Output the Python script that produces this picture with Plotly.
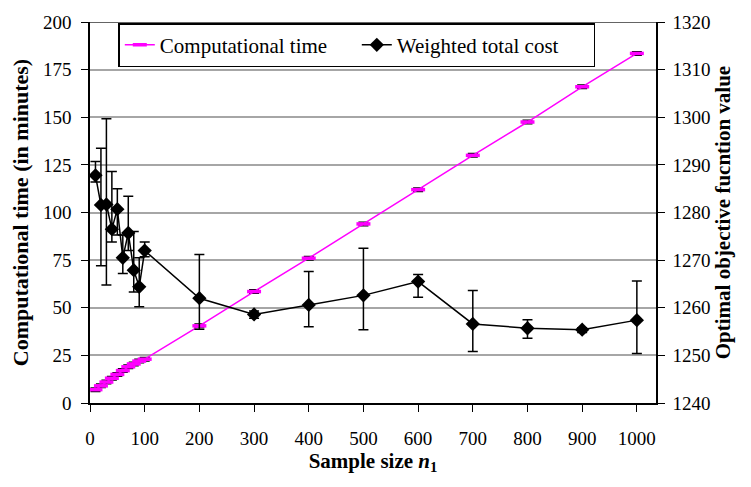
import plotly.graph_objects as go

sample_size = [10, 20, 30, 40, 50, 60, 70, 80, 90, 100, 200, 300, 400, 500, 600, 700, 800, 900, 1000]

comp_time = [7.0, 9.0, 11.0, 13.0, 15.0, 17.0, 19.0, 20.5, 22.0, 23.0, 40.5, 58.5, 76.0, 94.0, 112.0, 130.0, 147.5, 166.0, 183.5]
comp_time_err = [1.0] * 19

cost = [1287.8, 1281.6, 1281.7, 1276.5, 1280.7, 1270.5, 1275.7, 1267.9, 1264.4, 1272.0,
        1262.0, 1258.6, 1260.6, 1262.6, 1265.5, 1256.6, 1255.7, 1255.4, 1257.4]
cost_hi = [1290.7, 1293.5, 1299.7, 1288.6, 1285.0, 1275.3, 1283.4, 1276.0, 1270.5, 1273.8,
           1271.2, 1259.3, 1267.6, 1272.5, 1267.0, 1263.6, 1257.5, 1255.8, 1265.6]
cost_lo = [1286.4, 1268.8, 1264.8, 1273.8, 1275.3, 1267.2, 1272.0, 1263.3, 1260.2, 1270.7,
           1255.5, 1257.8, 1256.0, 1255.4, 1262.2, 1250.8, 1253.6, 1254.8, 1250.4]

x_ticks = list(range(0, 1001, 100))
left_ticks = list(range(0, 201, 25))
right_ticks = list(range(1240, 1321, 10))

err_plus = [h - c for h, c in zip(cost_hi, cost)]
err_minus = [c - l for c, l in zip(cost, cost_lo)]

FONT = "Liberation Serif"

fig = go.Figure()
fig.add_trace(go.Scatter(
    x=sample_size, y=comp_time, name="Computational time", mode="lines+markers",
    line=dict(color="#ff00ff", width=1.5),
    marker=dict(symbol="line-ew", size=10, color="#ff00ff", line=dict(color="#ff00ff", width=3.5)),
    error_y=dict(type="data", array=comp_time_err, visible=True, color="black", thickness=1.2, width=5),
))
fig.add_trace(go.Scatter(
    x=sample_size, y=cost, name="Weighted total cost", mode="lines+markers", yaxis="y2",
    line=dict(color="black", width=1.5),
    marker=dict(symbol="diamond", size=11, color="black"),
    error_y=dict(type="data", array=err_plus, arrayminus=err_minus, visible=True,
                 color="black", thickness=1.5, width=5),
))

fig.add_shape(type="line", xref="x", yref="y", x0=0, x1=1035, y0=200, y1=200,
              line=dict(color="#303030", width=1.5), layer="below")

fig.update_layout(
    width=751, height=487,
    margin=dict(l=90, r=95, t=17, b=84),
    paper_bgcolor="white", plot_bgcolor="white",
    font=dict(family=FONT, size=20, color="black"),
    showlegend=True,
    legend=dict(orientation="h", x=0.05, y=0.997, xanchor="left", yanchor="top",
                bordercolor="black", borderwidth=1.5, bgcolor="white",
                font=dict(family=FONT, size=21), tracegroupgap=0, entrywidth=192),
    xaxis=dict(range=[0, 1035], tickvals=x_ticks, showgrid=False, zeroline=False,
               showline=True, linecolor="black", linewidth=1.5, ticks="outside", ticklen=7,
               tickcolor="black", tickfont=dict(family=FONT, size=19), ticklabelstandoff=10,
               title=dict(text="<b>Sample size <i>n</i></b><sub><b>1</b></sub>",
                          font=dict(family=FONT, size=21), standoff=4)),
    yaxis=dict(range=[0, 200], tickvals=left_ticks, showgrid=True, gridcolor="#a6a6a6", gridwidth=1.5,
               zeroline=False, showline=True, linecolor="black", linewidth=1.5,
               ticks="outside", ticklen=7, tickcolor="black", tickfont=dict(family=FONT, size=19),
               ticklabelstandoff=6,
               title=dict(text="<b>Computational time (in minutes)</b>", font=dict(family=FONT, size=22),
                          standoff=8)),
    yaxis2=dict(range=[1240, 1320], tickvals=right_ticks, overlaying="y", side="right",
                showgrid=False, zeroline=False, showline=True, linecolor="black", linewidth=1.5,
                ticks="outside", ticklen=7, tickcolor="black", tickfont=dict(family=FONT, size=19),
                ticklabelstandoff=4,
                title=dict(text="<b>Optimal objective fucntion value</b>", font=dict(family=FONT, size=21),
                           standoff=4)),
)

fig.write_html("out.html")
